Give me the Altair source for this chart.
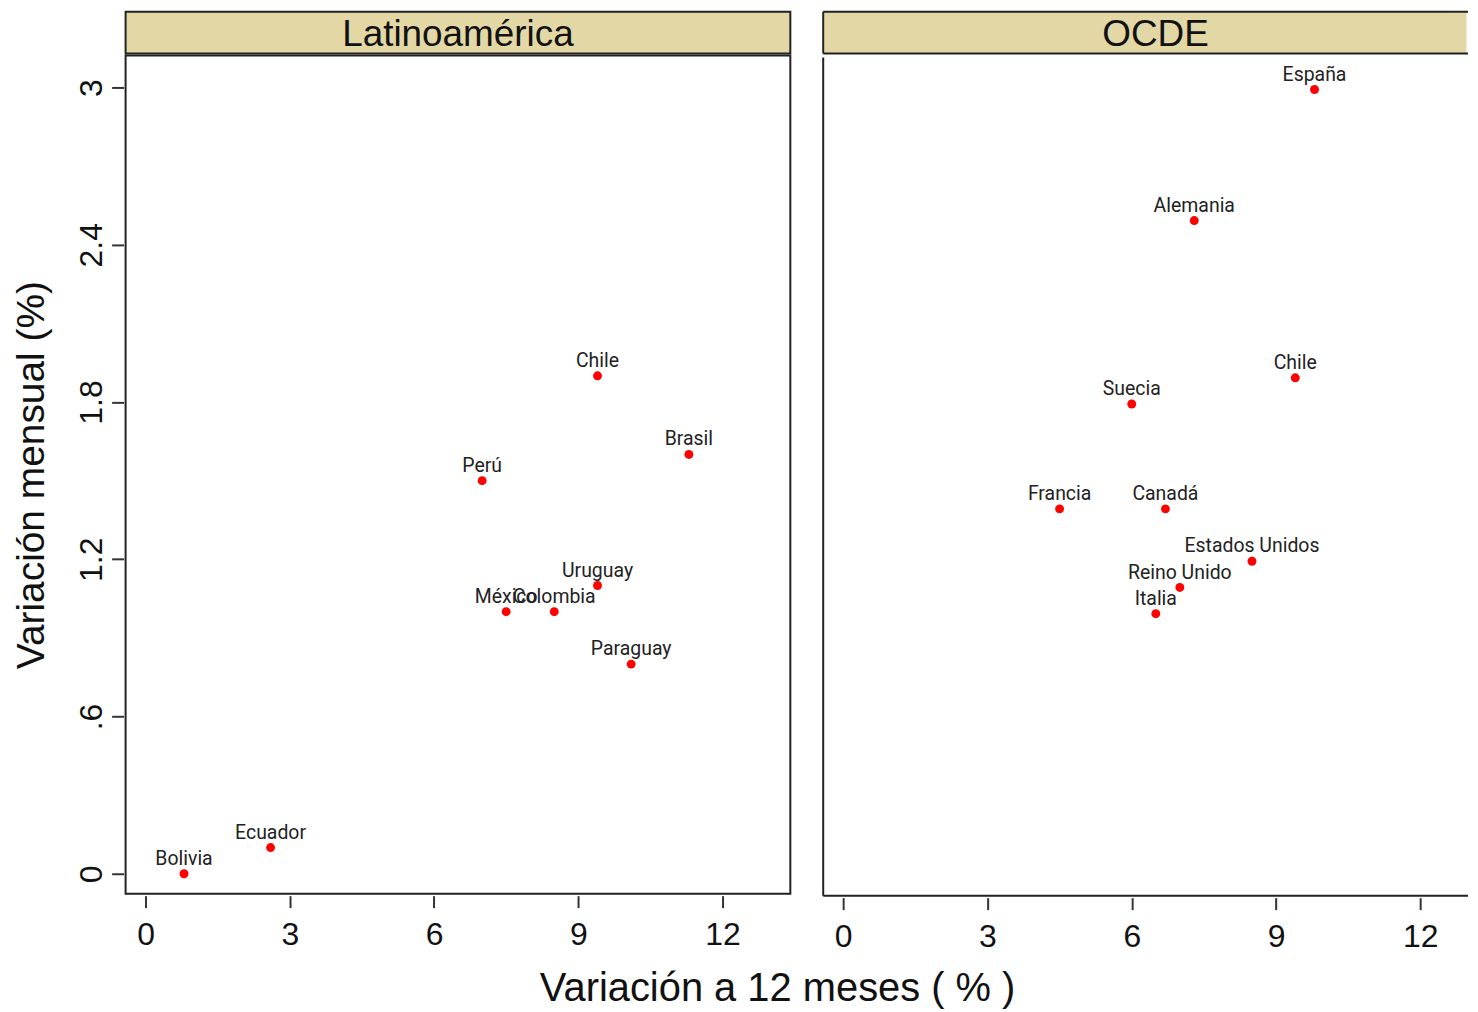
import altair as alt
import pandas as pd

# ---- data ----
panels = ["Latinoamérica", "OCDE"]

lat_names = ["Bolivia", "Ecuador", "Perú", "Chile", "Brasil", "Uruguay", "México", "Colombia", "Paraguay"]
lat_x = [0.8, 2.6, 7.0, 9.4, 11.3, 9.4, 7.5, 8.5, 10.1]
lat_y = [0.0, 0.1, 1.5, 1.9, 1.6, 1.1, 1.0, 1.0, 0.8]

ocde_names = ["España", "Alemania", "Chile", "Suecia", "Francia", "Canadá", "Estados Unidos", "Reino Unido", "Italia"]
ocde_x = [9.8, 7.3, 9.4, 6.0, 4.5, 6.7, 8.5, 7.0, 6.5]
ocde_y = [3.0, 2.5, 1.9, 1.8, 1.4, 1.4, 1.2, 1.1, 1.0]

x_ticks = [0, 3, 6, 9, 12]
y_ticks = [0, 0.6, 1.2, 1.8, 2.4, 3.0]

x_title = "Variación a 12 meses ( % )"
y_title = "Variación mensual (%)"

FONT = "Liberation Sans"
LABEL_FONT = "Roboto"
HEADER_FILL = "#E2D7A5"
LINE = "#222222"
PANEL_H = 841
HEADER_H = 42


def one(k):
    return alt.Chart(pd.DataFrame({"k": [k]}))


def panel(name, names, xs, ys, width, xmax, show_y, full_border, header_dx):
    df = pd.DataFrame({"pais": names, "x": xs, "y": ys})
    xscale = alt.Scale(domain=[-0.415, xmax], nice=False, zero=False)
    yscale = alt.Scale(domain=[-0.076, 3.122], nice=False, zero=False)
    xaxis = alt.Axis(values=x_ticks, title=None, grid=False, domain=False,
                     tickSize=12, offset=2, tickColor="#333", tickWidth=2,
                     labelFontSize=32, labelFont=FONT, labelPadding=12,
                     labelColor="#111")
    if show_y:
        yaxis = alt.Axis(values=y_ticks, title=y_title, grid=False, domain=False,
                         tickSize=12, offset=2, tickColor="#333", tickWidth=2,
                         labelFontSize=32, labelFont=FONT, labelPadding=10,
                         labelAngle=270, labelAlign="center", labelBaseline="alphabetic",
                         labelColor="#111",
                         labelExpr="datum.value == 0 ? '0' : datum.value == 3 ? '3' : datum.value < 1 ? '.6' : format(datum.value, '.1f')",
                         titleFontSize=39, titleFont=FONT, titleFontWeight="normal",
                         titlePadding=24, titleColor="#111")
        y_enc = alt.Y("y:Q", scale=yscale, axis=yaxis)
    else:
        y_enc = alt.Y("y:Q", scale=yscale, axis=None)

    base = alt.Chart(df)
    pts = base.mark_point(filled=True, color="#FF0000", size=80, opacity=1).encode(
        x=alt.X("x:Q", scale=xscale, axis=xaxis), y=y_enc)
    txt = base.mark_text(font=LABEL_FONT, fontSize=19.5, baseline="alphabetic", dy=-9,
                         color="#222").encode(x="x:Q", y="y:Q", text="pais:N")
    layers = [pts, txt]
    hdr_layers = []
    hdr_df = pd.DataFrame({"panel": [name]})
    hdr_txt = alt.Chart(hdr_df).mark_text(font=FONT, fontSize=37, baseline="middle",
                                          align="center", color="#111").encode(
        x=alt.value(width / 2 + header_dx), y=alt.value(HEADER_H / 2 + 2), text="panel:N")
    hdr_layers.append(hdr_txt)
    if full_border:
        view = alt.ViewBackground(stroke=LINE, strokeWidth=2)
        hview = alt.ViewBackground(fill=HEADER_FILL, stroke=LINE, strokeWidth=2)
    else:
        view = alt.ViewBackground(stroke="transparent")
        hview = alt.ViewBackground(fill=HEADER_FILL, stroke="transparent")
        layers += [
            one(0).mark_rule(color=LINE, strokeWidth=2).encode(x=alt.value(0), y=alt.value(0), y2=alt.value(PANEL_H)),
            one(1).mark_rule(color=LINE, strokeWidth=2).encode(x=alt.value(0), x2=alt.value(width + 2), y=alt.value(PANEL_H)),
        ]
        hdr_layers += [
            one(2).mark_rule(color=LINE, strokeWidth=2).encode(x=alt.value(0), y=alt.value(0), y2=alt.value(HEADER_H)),
            one(3).mark_rule(color=LINE, strokeWidth=2).encode(x=alt.value(0), x2=alt.value(width + 2), y=alt.value(0)),
            one(4).mark_rule(color=LINE, strokeWidth=2).encode(x=alt.value(0), x2=alt.value(width + 2), y=alt.value(HEADER_H)),
        ]
    body = alt.layer(*layers).properties(width=width, height=PANEL_H, view=view)
    head = alt.layer(*hdr_layers).properties(width=width, height=HEADER_H, view=hview)
    return alt.vconcat(head, body, spacing=0)


left = panel(panels[0], lat_names, lat_x, lat_y, 667, 13.41, True, True, 0)
right = panel(panels[1], ocde_names, ocde_x, ocde_y, 645, 12.95, False, False, 11)

chart = alt.hconcat(left, right, spacing=30).properties(
    padding={"left": 3, "top": 0, "right": 0, "bottom": 0},
    title=alt.TitleParams(text=x_title, orient="bottom", anchor="middle", fontSize=40,
                          font=FONT, fontWeight="normal", offset=16, dx=37, color="#111"),
).configure_axis(grid=False).configure_concat(spacing=0)

chart.save("out.html", embed_options={"renderer": "svg", "actions": False})
